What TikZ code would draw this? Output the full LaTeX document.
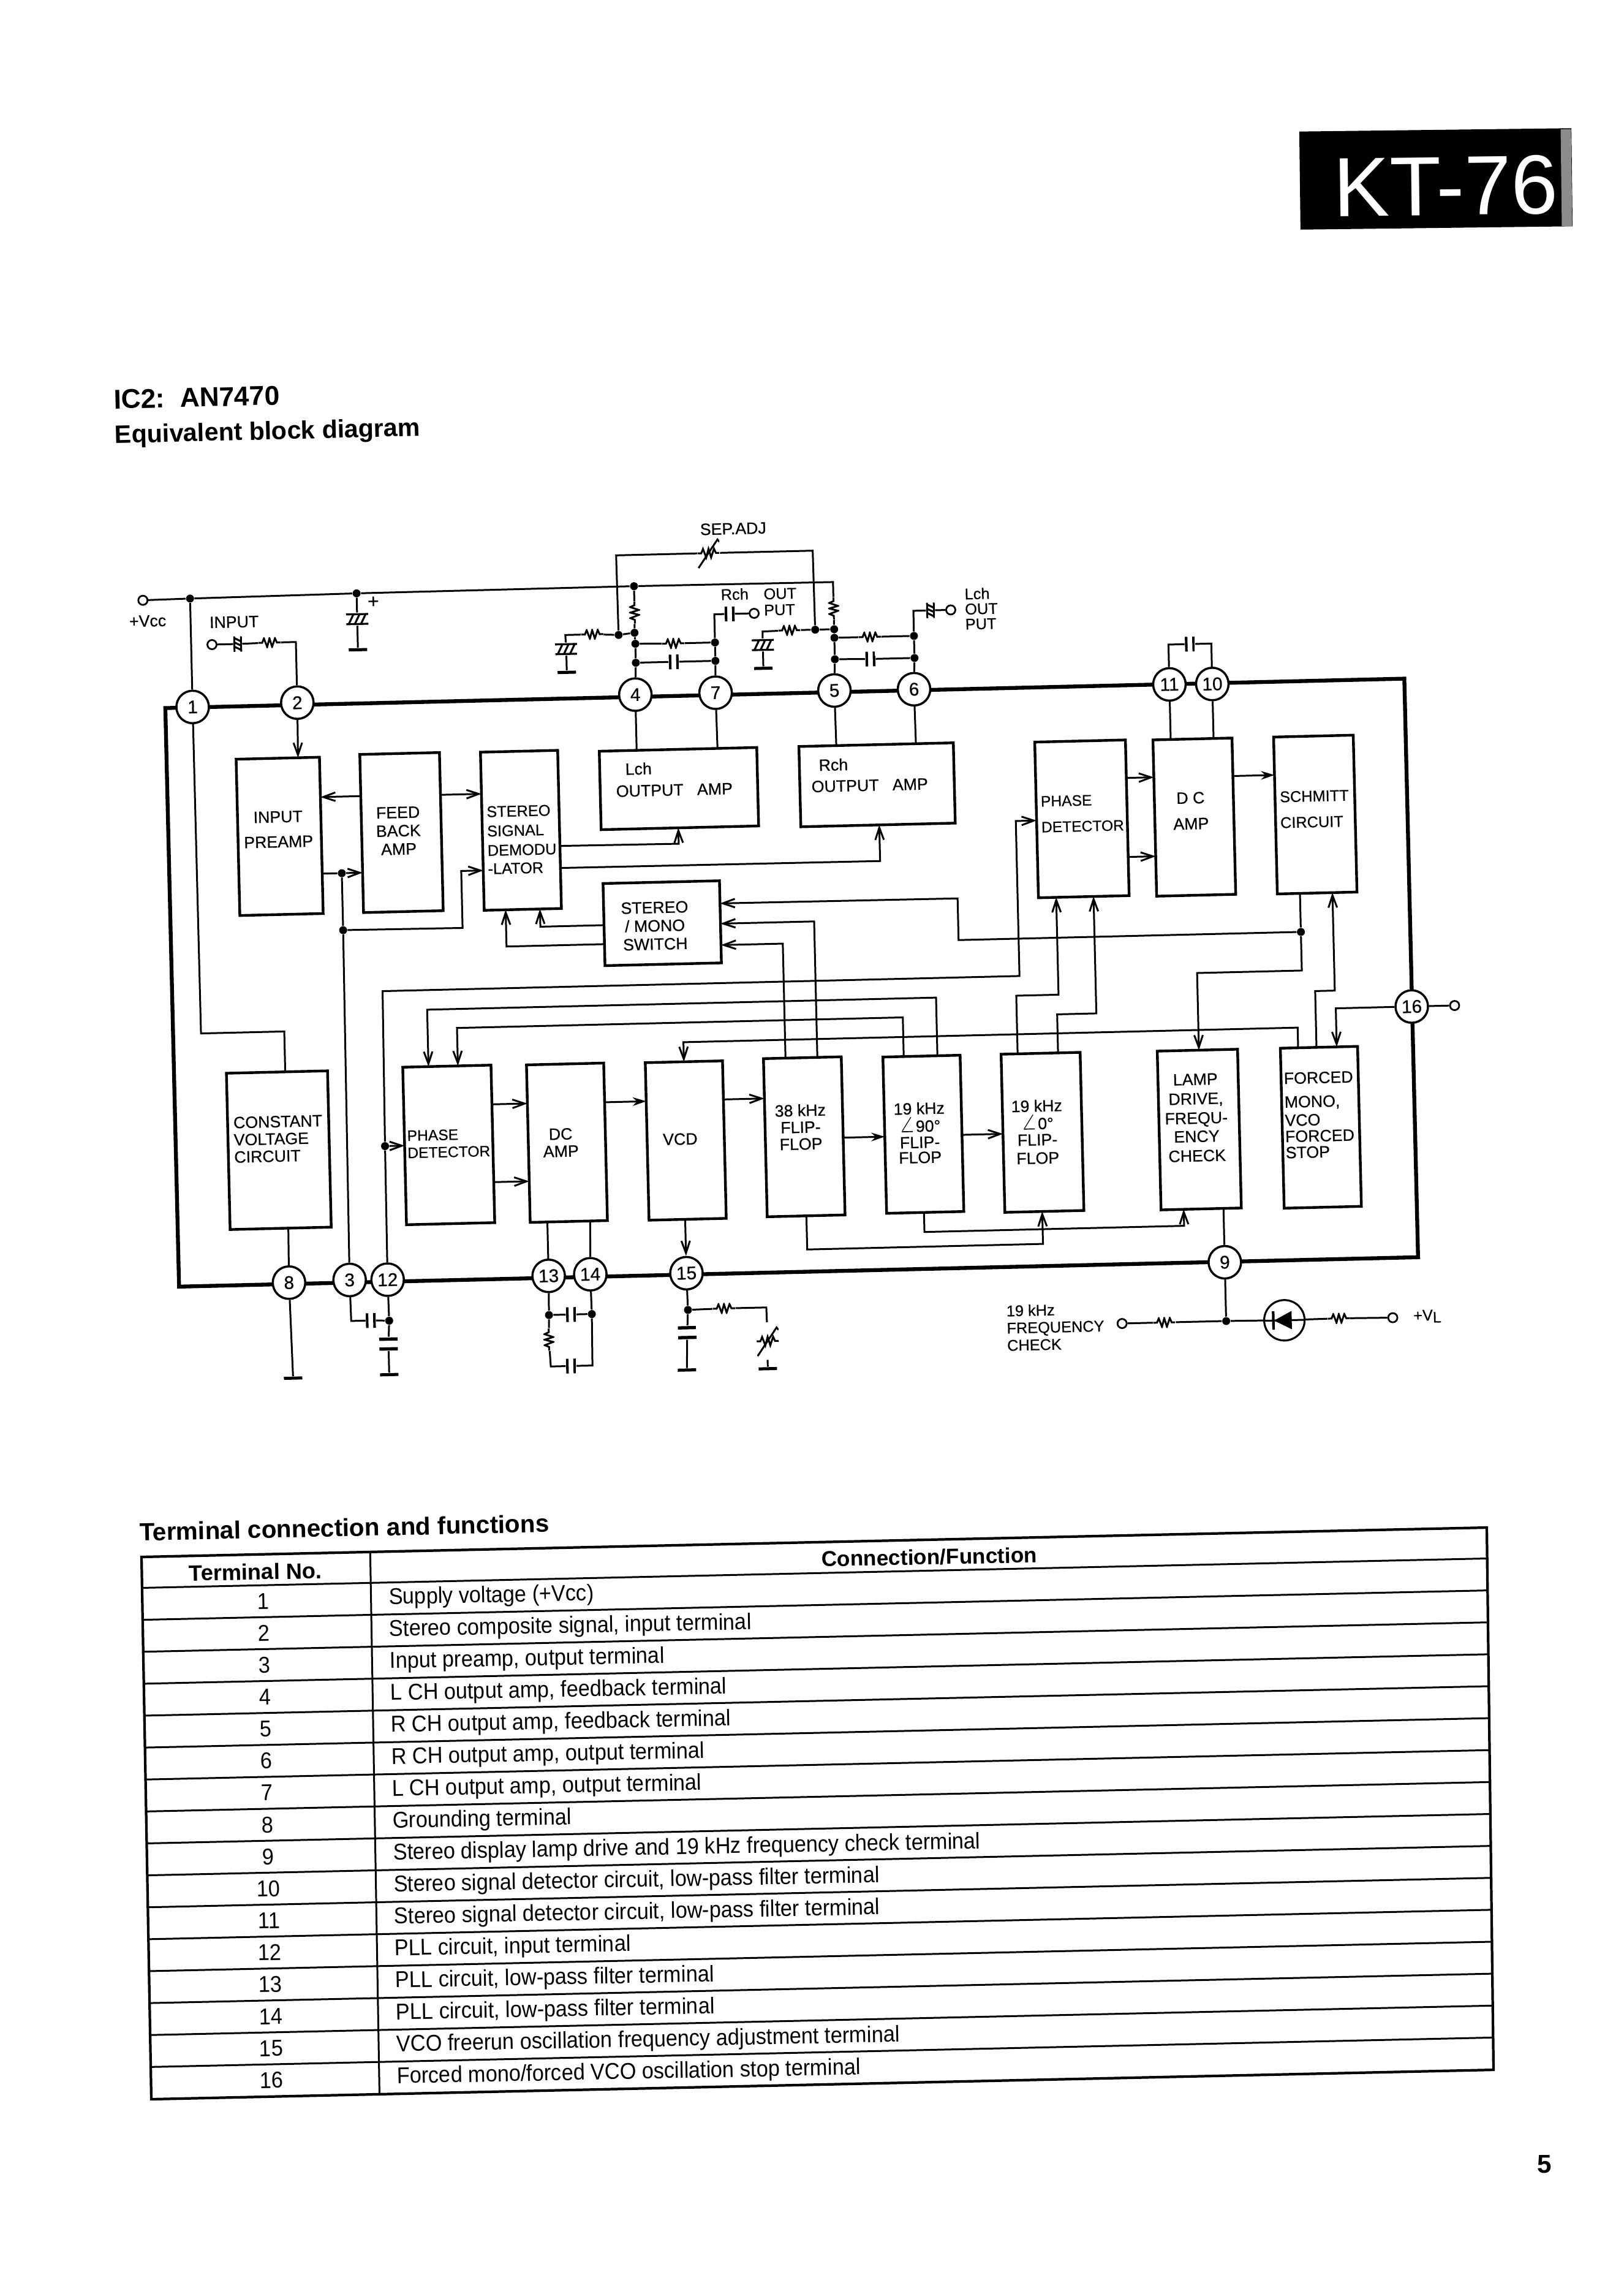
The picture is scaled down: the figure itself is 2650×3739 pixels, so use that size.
\documentclass[tikz,border=0pt]{standalone}
\usepackage{fontspec}
\setmainfont{Liberation Sans}
\newfontfamily\tablefont[FakeStretch=.92]{Liberation Sans}
\newfontfamily\blockfont[FakeBold=.5]{Liberation Sans}
\usetikzlibrary{arrows.meta,calc}

\tikzset{
    wire/.style={line width=.85pt},
    arw/.style={wire,-{Straight Barb[length=.2cm,width=.14cm]}},
    arwf/.style={wire,-{Stealth[length=.22cm,width=.14cm]}},
    blockbox/.style={draw,rectangle,inner sep=0pt,line width=1.25pt},
    blocktext/.style={inner sep=0pt,align=center,font=\blockfont\fontsize{7.6}{8}\selectfont},
    smalltext/.style={inner sep=0pt,align=left,font=\blockfont\fontsize{7.2}{8}\selectfont},
    pinc/.style={draw,circle,fill=white,inner sep=0pt,minimum size=.53cm,line width=1pt,font=\blockfont\fontsize{8.5}{8}\selectfont},
    jdot/.style={circle,fill=black,inner sep=0pt,minimum size=.13cm},
    term/.style={draw,circle,fill=white,inner sep=0pt,minimum size=.15cm,line width=.8pt},
    gndbar/.style={rectangle,fill=black,inner sep=0pt,minimum width=.3cm,minimum height=.05cm},
    resbox/.style={rectangle,inner sep=0pt,minimum width=.36cm,minimum height=.18cm,
        path picture={\draw[wire,shift={(path picture bounding box.center)}]
            (-18,0) -- (-12,0) -- (-9,-7) -- (-4,7) -- (0,-7) -- (4,7) -- (9,-7) -- (12,0) -- (18,0);}},
    resvar/.style={rectangle,inner sep=0pt,minimum width=.36cm,minimum height=.6cm,
        path picture={\begin{scope}[shift={(path picture bounding box.center)}]
            \draw[wire,rotate=#1] (-18,0) -- (-12,0) -- (-9,-7) -- (-4,7) -- (0,-7) -- (4,7) -- (9,-7) -- (12,0) -- (18,0);
            \draw[wire] (-17,24) -- (15,-22) -- (18,-18);
            \end{scope}}},
    capbox/.style={rectangle,inner sep=0pt,minimum width=.16cm,minimum height=.26cm,
        path picture={\draw[line width=1.2pt,shift={(path picture bounding box.center)}]
            (-6,-12) -- (-6,12) (6,-12) -- (6,12);}},
    capvert/.style={rectangle,inner sep=0pt,minimum width=.3cm,minimum height=.22cm,
        path picture={\draw[line width=1.5pt,shift={(path picture bounding box.center)}]
            (-15,-8) -- (15,-8) (-15,8) -- (15,8);}},
    ecap/.style={rectangle,inner sep=0pt,minimum width=.36cm,minimum height=.2cm,
        path picture={\draw[line width=.9pt,shift={(path picture bounding box.center)}]
            (-18,-8) -- (18,-8) (-18,8) -- (18,8)
            (-14,8) -- (-6,-8) (-4,8) -- (4,-8) (6,8) -- (14,-8);}},
    ledbox/.style={draw,circle,inner sep=0pt,minimum size=.66cm,line width=.9pt,
        path picture={\begin{scope}[shift={(path picture bounding box.center)}]
            \fill (-17,0) -- (12,-15) -- (12,15) -- cycle;
            \draw[line width=1.2pt] (-18,-15) -- (-18,15);
            \draw[wire] (-33,0) -- (33,0);
            \end{scope}}},
}

% block from its two corners
\newcommand{\ablock}[6][]{
    \pgfmathsetmacro\bw{(#5-#3)/100}
    \pgfmathsetmacro\bh{(#6-#4)/100}
    \node[blockbox,minimum width=\bw cm,minimum height=\bh cm,#1] (#2) at ({(#3+#5)/2},{(#4+#6)/2}) {};
}
\newcommand{\bigangle}{\scalebox{1.4}{$\angle$}}

\begin{document}
\begin{tikzpicture}[x=.01cm,y=-.01cm]
    \useasboundingbox (0,0) rectangle (2650,3739);

    % model tag
    \node[fill=black,inner sep=0pt,minimum width=4.44cm,minimum height=1.6cm,rotate=.7] (tag) at (2344,292) {};
    \node[fill=black!45,inner sep=0pt,minimum width=.17cm,minimum height=1.58cm,rotate=.7] (tagedge) at (2557,290) {};
    \node[text=white,inner sep=0pt,font=\fontsize{39}{39}\selectfont,rotate=.7] (tagtext) at (2360,304) {KT-76};

    \node[inner sep=0pt,anchor=west,rotate=1.4,font=\bfseries\fontsize{12.6}{13}\selectfont] (ictitle) at (185,652) {IC2:\ \ AN7470};
    \node[inner sep=0pt,anchor=west,rotate=1.4,font=\bfseries\fontsize{11.7}{12}\selectfont] (blocktitle) at (187,713) {Equivalent block diagram};

    \begin{scope}[rotate=1.36,transform shape]
        % package outline and terminals
        \ablock[line width=1.8pt]{ic}{243}{1162}{2265}{2106}
        \foreach \n/\x/\y in {1/287/1161,2/458/1158,4/1010/1158,7/1141/1158,5/1335/1159,6/1465/1160,11/1882/1162,10/1952/1163,
                16/2265/1697,9/1950/2107,8/422/2104,3/521/2102,12/583/2103,13/846/2103,14/914/2102,15/1071/2104}
            \node[pinc] (pin\n) at (\x,\y) {\n};

        % upper row of blocks
        \ablock{preamp}{356}{1248}{492}{1503}
        \ablock{fbamp}{558}{1245}{688}{1503}
        \ablock{demod}{755}{1246}{881}{1504}
        \ablock{lchamp}{949}{1249}{1206}{1377}
        \ablock{rchamp}{1275}{1249}{1527}{1380}
        \ablock{stmono}{950}{1465}{1140}{1599}
        \ablock{phaseup}{1660}{1251}{1808}{1505}
        \ablock{dcup}{1853}{1252}{1982}{1507}
        \ablock{schmitt}{2050}{1252}{2180}{1508}
        % lower row of blocks
        \ablock{constv}{328}{1760}{493}{2015}
        \ablock{phaselo}{616}{1757}{760}{2014}
        \ablock{dclo}{818}{1758}{944}{2015}
        \ablock{vcd}{1012}{1759}{1138}{2016}
        \ablock{ffa}{1205}{1757}{1332}{2015}
        \ablock{ffb}{1400}{1759}{1526}{2014}
        \ablock{ffc}{1593}{1759}{1722}{2017}
        \ablock{lamp}{1848}{1760}{1979}{2019}
        \ablock{forced}{2049}{1760}{2175}{2021}

        \node[blocktext] (preamptext) at (422,1364) {INPUT\\[3.6pt]PREAMP};
        \node[blocktext] (fbamptext) at (618,1371) {FEED\\[.5pt]BACK\\[.5pt]AMP};
        \node[blocktext,align=left,font=\blockfont\fontsize{7.2}{8}\selectfont] (demodtext) at (819,1390) {STEREO\\[1pt]SIGNAL\\[1pt]DEMODU\\[.5pt]-LATOR};
        \node[blocktext,anchor=west] (lchtext) at (990,1279) {Lch};
        \node[blocktext] (lchout) at (1070,1315) {OUTPUT\ \ \ AMP};
        \node[blocktext,anchor=west] (rchtext) at (1306,1280) {Rch};
        \node[blocktext] (rchout) at (1389,1315) {OUTPUT\ \ \ AMP};
        \node[blocktext] (stmonotext) at (1033,1536) {STEREO\\[.5pt]/ MONO\\[.5pt]SWITCH};
        \node[blocktext,align=left,font=\blockfont\fontsize{7}{8}\selectfont] (phaseuptext) at (1735,1369) {PHASE\\[4pt]DETECTOR};
        \node[blocktext] (dcuptext) at (1912,1369) {D C\\[4pt]AMP};
        \node[blocktext,align=left,font=\blockfont\fontsize{7.2}{8}\selectfont] (schmitttext) at (2114,1371) {SCHMITT\\[4pt]CIRCUIT};
        \node[blocktext,align=left,font=\blockfont\fontsize{7.6}{8}\selectfont] (constvtext) at (410,1869) {CONSTANT\\VOLTAGE\\CIRCUIT};
        \node[blocktext,align=left,font=\blockfont\fontsize{7}{8}\selectfont] (phaselotext) at (688,1883) {PHASE\\DETECTOR};
        \node[blocktext] (dclotext) at (871,1886) {DC\\AMP};
        \node[blocktext] (vcdtext) at (1066,1885) {VCD};
        \node[blocktext] (ffatext) at (1263,1870) {38 kHz\\[-.2pt]FLIP-\\[-.2pt]FLOP};
        \node[blocktext] (ffbtext) at (1457,1884) {19 kHz\\[.2pt]\bigangle 90°\\[-.5pt]FLIP-\\[-1pt]FLOP};
        \node[blocktext] (ffctext) at (1649,1887) {19 kHz\\[.2pt]\bigangle 0°\\[-.5pt]FLIP-\\[.5pt]FLOP};
        \node[blocktext] (lamptext) at (1909,1870) {LAMP\\[1pt]DRIVE,\\[1pt]FREQU-\\[.5pt]ENCY\\[1pt]CHECK};
        \node[blocktext,align=left] (forcedtext) at (2110,1870) {FORCED\\[3pt]MONO,\\[.5pt]VCO\\[-.5pt]FORCED\\[-.5pt]STOP};

        % free texts
        \node[blocktext] (vcctext) at (217,1019) {+Vcc};
        \node[blocktext] (inputtext) at (358,1024) {INPUT};
        \node[blocktext,font=\blockfont\fontsize{9}{9}\selectfont] (plustext) at (586,997) {+};
        \node[blocktext] (septext) at (1176,891) {SEP.ADJ};
        \node[smalltext] (rchtag) at (1176,998) {Rch};
        \node[smalltext] (rchouttag) at (1250,1012) {OUT\\[-.5pt]PUT};
        \node[smalltext] (lchtag) at (1578,1031) {Lch\\[-1pt]OUT\\[-1pt]PUT};
        \node[smalltext,anchor=west] (freqtext) at (1591,2206) {19 kHz\\FREQUENCY\\CHECK};
        \node[smalltext,anchor=west] (vltext) at (2255,2203) {+V\raisebox{-1pt}{\scriptsize L}};

        % dots, terminals and parts
        \foreach \n/\x/\y in {j1/287/984,jc/559/982,jl/1012/981,j4a/1011/1057,j4s/985/1060,j4b/1012/1075,j4c/1012/1106,
                j7a/1142/1076,j7b/1142/1106,j5a/1337/1059,j5s/1306/1059,j5b/1337/1073,j5c/1337/1108,j6a/1467/1073,j6b/1467/1109,
                j3a/524/1438,j3b/524/1531,js/2087/1571,j12/584/1885,j12b/584/2170,j13/845/2167,j14/915/2167,j15/1072/2164,j9/1950/2203}
            \node[jdot] (\n) at (\x,\y) {};
        \foreach \n/\x/\y in {vcc/210/985,tin/321/1060,t7/1207/1030,t6/1528/1032,t16/2335/1697,t9/1780/2203,t9b/2222/2204}
            \node[term] (\n) at (\x,\y) {};
        \foreach \n/\x/\y in {gndc/559/1074,g4/899/1119,g5/1220/1120,g8/425/2260,g12/582/2258,g15/1068/2262,g16/1200/2263}
            \node[gndbar] (\n) at (\x,\y) {};
        \foreach \n/\x/\y in {rin/415/1059,r4l/942/1058,rf4/1074/1076,r5l/1264/1059,rf5/1395/1073,r15/1131/2163,r9a/1849/2203,r9b/2134/2203}
            \node[resbox] (\n) at (\x,\y) {};
        \foreach \n/\x/\y in {r4/1012/1024,r5/1337/1025,r13/844/2207}
            \node[resbox,rotate=90] (\n) at (\x,\y) {};
        \foreach \n/\x/\y in {c4/1074/1106,c5/1395/1109,c7o/1167/1030,c3/554/2169,c13/881/2167,c13b/879/2251,c11/1917/1097}
            \node[capbox] (\n) at (\x,\y) {};
        \foreach \n/\x/\y in {c12/582/2208,c15/1070/2201}
            \node[capvert] (\n) at (\x,\y) {};
        \foreach \n/\x/\y in {ecc/559/1024,e4/899/1081,e5/1220/1082}
            \node[ecap] (\n) at (\x,\y) {};
        \foreach \n/\x/\y in {ecin/363/1060,e6/1495/1032}
            \node[ecap,rotate=90,scale=.7] (\n) at (\x,\y) {};
        \node[resvar=0] (rsep) at (1135,930) {};
        \node[resvar=90] (rv15) at (1201,2218) {};
        \node[ledbox] (led) at (2045,2204) {};

        % ends of the wires on the blocks
        \foreach \n/\x/\y in {railend/1337/982,paa/457/1248,pab/492/1313,fba/558/1313,fbb/688/1314,sda/755/1314,pac/492/1438,fbc/558/1438,sdb/755/1439,
                sdc/881/1402,lca/1075/1377,sdd/881/1438,rca/1403/1380,swa/950/1533,sde/846/1504,swb/950/1564,sdf/790/1504,
                swc/1140/1502,swd/1140/1535,swe/1140/1570,lcb/1010/1249,lcc/1142/1249,rcb/1336/1249,rcc/1466/1249,
                dua/1882/1252,dub/1952/1252,smb/2087/1508,smc/2140/1508,lma/1916/1760,foa/2108/1760,fob/2141/1760,foc/2078/1760,vca/1075/1759,
                pla/616/1885,pha/1660/1379,plb/658/1757,plc/706/1757,fba2/1489/1759,fbb2/1434/1759,faa/1241/1757,fab/1293/1757,
                fca/1620/1759,fcb/1686/1759,phb/1689/1505,phc/1750/1505,phd/1808/1313,dud/1853/1313,phe/1808/1442,due/1853/1442,duf/1982/1314,smd/2050/1314,
                pld/760/1821,dla/818/1821,ple/760/1948,dlb/818/1948,dlc/944/1822,vcb/1012/1822,vcc2/1138/1822,fac/1205/1822,fad/1332/1889,fbc2/1400/1889,
                fbd/1526/1889,fcc/1593/1889,fae/1269/2015,fcd/1654/2017,fbe/1461/2014,lmb/1885/2019,lmc/1950/2019,cva/424/1760,cvb/423/2015,
                dld/846/2015,dle/916/2015,vcd2/1071/2016}
            \coordinate (\n) at (\x,\y);

        % supply rail and outer parts
        \draw[wire] (vcc) -- (j1) -- (jc) -- (jl) -- (railend) -- (r5);
        \draw[wire] (j1) -- (pin1);
        \draw[wire] (pin1) -- (288,1694) -- (424,1694) -- (cva);
        \draw[wire] (jc) -- (ecc) -- (gndc);
        \draw[wire] (tin) -- (ecin) -- (rin) -- (458,1059) -- (pin2);
        \draw[arw] (pin2) -- (paa);
        % terminals 4 and 7
        \draw[wire] (jl) -- (r4) -- (j4a) -- (j4b) -- (j4c) -- (pin4);
        \draw[wire] (j4a) -- (j4s) -- (r4l) -- (898,1058) -- (e4) -- (g4);
        \draw[wire] (j4s) -- (984,930) -- (rsep) -- (1305,930) -- (j5s);
        \draw[wire] (j4b) -- (rf4) -- (j7a);
        \draw[wire] (j4c) -- (c4) -- (j7b);
        \draw[wire] (j7a) -- (j7b) -- (pin7);
        \draw[wire] (j7a) -- (1142,1030) -- (c7o) -- (t7);
        \draw[wire] (pin4) -- (lcb);
        \draw[wire] (pin7) -- (lcc);
        % terminals 5 and 6
        \draw[wire] (r5) -- (j5a) -- (j5b) -- (j5c) -- (pin5);
        \draw[wire] (j5a) -- (j5s) -- (r5l) -- (1220,1060) -- (e5) -- (g5);
        \draw[wire] (j5b) -- (rf5) -- (j6a);
        \draw[wire] (j5c) -- (c5) -- (j6b);
        \draw[wire] (j6a) -- (j6b) -- (pin6);
        \draw[wire] (j6a) -- (1467,1032) -- (e6) -- (t6);
        \draw[wire] (pin5) -- (rcb);
        \draw[wire] (pin6) -- (rcc);
        % terminals 11 and 10
        \draw[wire] (pin11) -- (1882,1097) -- (c11) -- (1952,1097) -- (pin10);
        \draw[wire] (pin11) -- (dua);
        \draw[wire] (pin10) -- (dub);
        % upper signal path
        \draw[arw] (fba) -- (pab);
        \draw[arw] (fbb) -- (sda);
        \draw[wire] (pac) -- (j3a);
        \draw[arw] (j3a) -- (fbc);
        \draw[wire] (j3a) -- (j3b) -- (pin3);
        \draw[arw] (j3b) -- (719,1532) -- (719,1439) -- (sdb);
        \draw[arw] (sdc) -- (1075,1403) -- (lca);
        \draw[arw] (sdd) -- (1403,1439) -- (rca);
        \draw[arw] (swa) -- (846,1533) -- (sde);
        \draw[arw] (swb) -- (790,1564) -- (sdf);
        \draw[arw] (js) -- (1528,1571) -- (1528,1503) -- (swc);
        \draw[wire] (js) -- (smb);
        \draw[arw] (js) -- (2087,1634) -- (1916,1634) -- (lma);
        \draw[arw] (foa) -- (2108,1668) -- (2140,1668) -- (smc);
        \draw[arw] (pin16) -- (2141,1697) -- (fob);
        \draw[wire] (pin16) -- (t16);
        \draw[arw] (foc) -- (2078,1727) -- (1075,1727) -- (vca);
        % feedback lines of the loop
        \draw[arw] (pin12) -- (j12) -- (586,1632) -- (1626,1632) -- (1626,1379) -- (pha);
        \draw[arw] (j12) -- (pla);
        \draw[arw] (fba2) -- (1489,1664) -- (658,1664) -- (plb);
        \draw[arw] (fbb2) -- (1434,1695) -- (706,1695) -- (plc);
        \draw[arw] (faa) -- (1241,1570) -- (swe);
        \draw[arw] (fab) -- (1293,1535) -- (swd);
        \draw[arw] (fca) -- (1620,1664) -- (1689,1664) -- (phb);
        \draw[arw] (fcb) -- (1686,1696) -- (1750,1696) -- (phc);
        \draw[arw] (phd) -- (dud);
        \draw[arw] (phe) -- (due);
        \draw[arwf] (duf) -- (smd);
        % lower signal path
        \draw[arw] (pld) -- (dla);
        \draw[arw] (ple) -- (dlb);
        \draw[arwf] (dlc) -- (vcb);
        \draw[arw] (vcc2) -- (fac);
        \draw[arwf] (fad) -- (fbc2);
        \draw[arw] (fbd) -- (fcc);
        \draw[arw] (fae) -- (1269,2070) -- (1654,2070) -- (fcd);
        \draw[arw] (fbe) -- (1461,2046) -- (1885,2046) -- (lmb);
        \draw[wire] (lmc) -- (pin9);
        \draw[wire] (cvb) -- (pin8) -- (g8);
        \draw[wire] (dld) -- (pin13);
        \draw[wire] (dle) -- (pin14);
        \draw[arw] (vcd2) -- (pin15);
        % parts below the package
        \draw[wire] (pin3) -- (522,2169) -- (c3) -- (j12b);
        \draw[wire] (pin12) -- (j12b) -- (c12) -- (g12);
        \draw[wire] (pin13) -- (j13) -- (c13) -- (j14);
        \draw[wire] (pin14) -- (j14) -- (914,2251) -- (c13b) -- (846,2251) -- (r13) -- (j13);
        \draw[wire] (pin15) -- (j15) -- (c15) -- (g15);
        \draw[wire] (j15) -- (r15) -- (1200,2163) -- (rv15) -- (g16);
        \draw[wire] (pin9) -- (j9) -- (r9a) -- (t9);
        \draw[wire] (j9) -- (led) -- (r9b) -- (t9b);
    \end{scope}

    % terminal table
    \coordinate (tl) at (231,2541);
    \coordinate (tr) at (2427,2493);
    \coordinate (bl) at (247,3426);
    \coordinate (br) at (2438,3378);
    \coordinate (ct) at ($(tl)!.17!(tr)$);
    \coordinate (cb) at ($(bl)!.17!(br)$);

    \node[inner sep=0pt,anchor=west,rotate=1.2,font=\bfseries\fontsize{11.5}{12}\selectfont] (tabletitle) at (227,2500) {Terminal connection and functions};
    \draw[line width=1.2pt] (tl) -- (tr) -- (br) -- (bl) -- cycle;
    \draw[line width=.85pt] (ct) -- (cb);
    \foreach \k in {0,...,15} {
        \pgfmathsetmacro\f{.057+\k*.0589}
        \draw[line width=.85pt] ($(tl)!\f!(bl)$) -- ($(tr)!\f!(br)$);
    }
    \node[rotate=1.1,inner sep=0pt,font=\bfseries\fontsize{10.3}{12}\selectfont] (headno) at (417,2565) {Terminal No.};
    \node[rotate=1.1,inner sep=0pt,font=\bfseries\fontsize{10}{12}\selectfont] (headfn) at (1517,2541) {Connection/Function};
    \foreach \i/\t in {1/Supply voltage (+Vcc),2/{Stereo composite signal, input terminal},3/{Input preamp, output terminal},
            4/{L CH output amp, feedback terminal},5/{R CH output amp, feedback terminal},6/{R CH output amp, output terminal},
            7/{L CH output amp, output terminal},8/Grounding terminal,9/Stereo display lamp drive and 19 kHz frequency check terminal,
            10/{Stereo signal detector circuit, low-pass filter terminal},11/{Stereo signal detector circuit, low-pass filter terminal},
            12/{PLL circuit, input terminal},13/{PLL circuit, low-pass filter terminal},14/{PLL circuit, low-pass filter terminal},
            15/VCO freerun oscillation frequency adjustment terminal,16/{Forced mono/forced VCO oscillation stop terminal}} {
        \pgfmathsetmacro\f{.057+(\i-.5)*.0589}
        \node[rotate=1.1,inner sep=0pt,font=\tablefont\fontsize{10.6}{12}\selectfont] (rowno\i) at ($($(tl)!\f!(bl)$)!.09!($(tr)!\f!(br)$)$) {\i};
        \node[rotate=1.1,inner sep=0pt,anchor=west,font=\tablefont\fontsize{10.6}{12}\selectfont] (rowfn\i) at ($($(tl)!\f!(bl)$)!.183!($(tr)!\f!(br)$)$) {\t};
    }

    \node[inner sep=0pt,font=\bfseries\fontsize{12}{12}\selectfont] (pageno) at (2521,3532) {5};
\end{tikzpicture}
\end{document}
